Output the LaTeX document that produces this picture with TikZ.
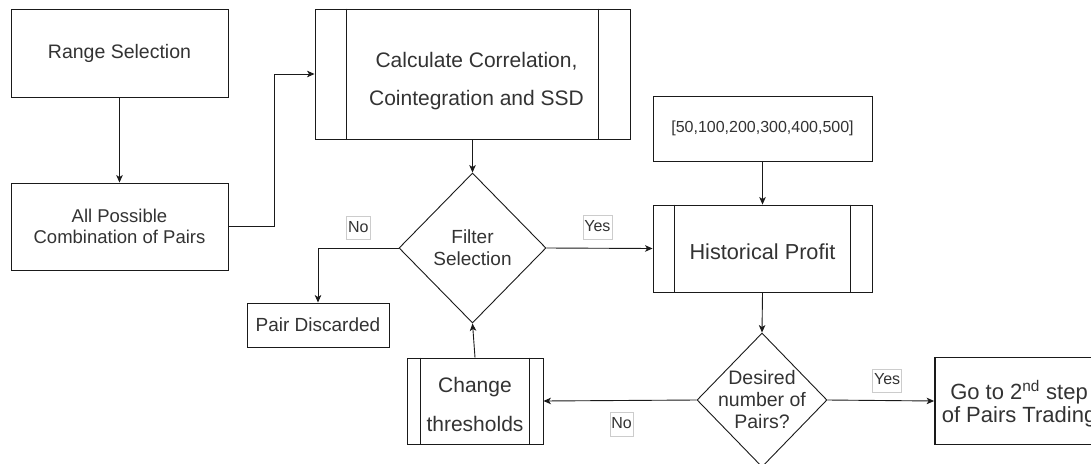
\documentclass[tikz,border=0pt]{standalone}
\usepackage{fontspec}
\setmainfont{Liberation Sans}
\usetikzlibrary{shapes.geometric,arrows.meta}
\definecolor{ink}{HTML}{333333}
\definecolor{edge}{HTML}{1A1A1A}
\definecolor{lblframe}{HTML}{CCCCCC}

% vertical bars of a "predefined process" box
\newcommand\procbars[2]{%
  \draw[draw=edge, line width=0.9pt]
    ([xshift=#2]#1.north west) -- ([xshift=#2]#1.south west)
    ([xshift=-#2]#1.north east) -- ([xshift=-#2]#1.south east);}

\begin{document}
\begin{tikzpicture}[x=1pt,y=-1pt,
  box/.style={draw=edge, line width=0.9pt, text=ink, align=center, inner sep=0pt},
  dia/.style={draw=edge, line width=0.9pt, diamond, inner sep=0pt},
  dtext/.style={text=ink, align=center, inner sep=0pt},
  arrow/.style={draw=edge, line width=0.9pt, -{Stealth[length=7.5pt,width=6.5pt,inset=2pt]}},
  lbl/.style={fill=white, draw=lblframe, line width=0.6pt, text=ink,
    font=\fontsize{16}{18}\selectfont, inner xsep=1.5pt, inner ysep=4pt,
    text height=12pt, text depth=3.5pt},
]
\useasboundingbox (0,0) rectangle (1091,463);
\fill[white] (0,0) rectangle (1091,463);
\clip (0,0) rectangle (1091,463);

% left column
\node[box, minimum width=217pt, minimum height=88pt, font=\fontsize{19.5}{22}\selectfont]
  (rs) at (119.5,53) {Range Selection};
\node[box, minimum width=217pt, minimum height=87pt, font=\fontsize{18.5}{21.7}\selectfont]
  (ap) at (119.5,226.5) {All Possible\\Combination of Pairs};

% measures
\node[box, minimum width=315pt, minimum height=130pt,
  label={[dtext, font=\fontsize{21}{38}\selectfont, xshift=4pt, yshift=-7pt]center:{Calculate Correlation,\\Cointegration and SSD}}]
  (calc) at (472.5,74) {};
\procbars{calc}{32pt}

% filter decision
\node[dia, minimum width=147pt, minimum height=150pt,
  label={[dtext, font=\fontsize{19}{21.7}\selectfont]center:{Filter\\Selection}}]
  (fs) at (472.5,248) {};

\node[box, minimum width=142pt, minimum height=44pt, font=\fontsize{19}{22}\selectfont]
  (pd) at (318,325) {Pair Discarded};

\node[box, minimum width=136pt, minimum height=86pt,
  label={[dtext, font=\fontsize{21}{39}\selectfont, yshift=-3pt]center:{Change\\thresholds}}]
  (ct) at (475,401) {};
\procbars{ct}{14pt}

% right column
\node[box, minimum width=219pt, minimum height=65pt, font=\fontsize{16}{19}\selectfont]
  (arr) at (762.5,128.5) {[50,100,200,300,400,500]};
\node[box, minimum width=219pt, minimum height=87pt,
  label={[dtext, font=\fontsize{21.7}{24}\selectfont, yshift=-3pt]center:{Historical Profit}}]
  (hp) at (762.5,248.5) {};
\procbars{hp}{22pt}

\node[dia, minimum width=130pt, minimum height=134pt,
  label={[dtext, font=\fontsize{19.5}{22}\selectfont]center:{Desired\\number of\\Pairs?}}]
  (dn) at (762,400) {};

\node[box, line width=1.8pt, minimum width=168pt, minimum height=87pt,
  label={[dtext, font=\fontsize{22}{23.5}\selectfont, yshift=-3pt]center:{Go to 2\textsuperscript{nd} step\\of Pairs Trading}}]
  (go) at (1019,401) {};

% connectors
\draw[arrow] (rs.south) -- (ap.north);
\draw[arrow] (ap.east) -- ++(45.5,0) |- (calc.west);
\draw[arrow] (calc.south) -- (fs.north);
\draw[arrow] (fs.west) -| node[lbl, pos=0.25, yshift=20pt] {No} (pd.north);
\draw[arrow] (fs.east) -- node[lbl, pos=0.48, yshift=21pt] {Yes} (hp.west);
\draw[arrow] (arr.south) -- (hp.north);
\draw[arrow] (hp.south) -- (dn.north);
\draw[arrow] (dn.east) -- node[lbl, pos=0.56, yshift=20pt] {Yes} (go.west);
\draw[arrow] (dn.west) -- node[lbl, pos=0.49, yshift=-24pt] {No} (ct.east);
\draw[arrow] (ct.north) -- (fs.south);
\end{tikzpicture}
\end{document}
